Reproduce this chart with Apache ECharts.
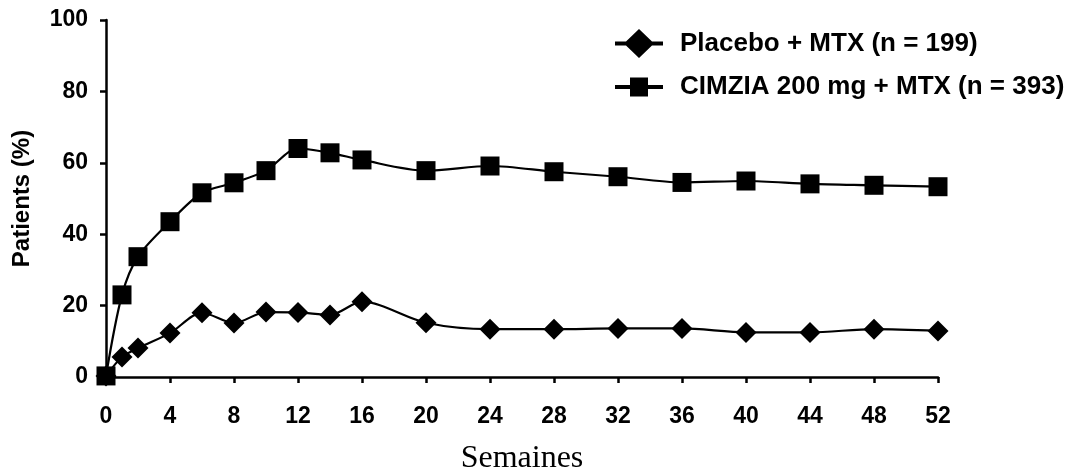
<!DOCTYPE html>
<html>
<head>
<meta charset="utf-8">
<script src="https://cdn.jsdelivr.net/npm/echarts@6/dist/echarts.min.js"></script>
<style>
html,body{margin:0;padding:0;background:#fff;}
#c{width:1077px;height:472px;}
</style>
</head>
<body>
<div id="c"></div>
<script>
const weeks = [0, 1, 2, 4, 6, 8, 10, 12, 14, 16, 20, 24, 28, 32, 36, 40, 44, 48, 52];
const placebo = [0.3, 5.6, 8.1, 12.3, 18.0, 15.1, 18.2, 18.1, 17.4, 21.1, 15.2, 13.4, 13.4, 13.6, 13.6, 12.5, 12.5, 13.4, 12.9];
const cimzia = [0.3, 23.0, 33.7, 43.5, 51.6, 54.4, 57.8, 64.0, 62.8, 60.8, 57.8, 59.1, 57.5, 56.1, 54.5, 54.9, 54.1, 53.7, 53.3];
const seriesNames = ['Placebo + MTX (n = 199)', 'CIMZIA 200 mg + MTX (n = 393)'];
const xTitle = 'Semaines';
const yTitle = 'Patients (%)';

const diamondIcon = 'path://M0,12.5 L11,12.5 L24,0 L37,12.5 L48,12.5 L48,16.5 L37,16.5 L24,29 L11,16.5 L0,16.5 Z';
const squareIcon = 'path://M0,7.5 L15,7.5 L15,0 L33,0 L33,7.5 L48,7.5 L48,11.5 L33,11.5 L33,19 L15,19 L15,11.5 L0,11.5 Z';

const chart = echarts.init(document.getElementById('c'), null, {renderer: 'canvas'});
const pair = (vals) => weeks.map((w, i) => [w, vals[i]]);
const sans = '"Liberation Sans", Arial, sans-serif';
chart.setOption({
  animation: false,
  backgroundColor: '#fff',
  grid: {left: 106, right: 139, top: 20, bottom: 95, containLabel: false, outerBoundsMode: 'none'},
  legend: {
    orient: 'vertical',
    left: 610,
    top: 24,
    itemWidth: 48,
    itemHeight: 29,
    itemGap: 16,
    textStyle: {fontFamily: sans, fontWeight: 'bold', fontSize: 26, color: '#000', padding: [0, 0, 0, 12]},
    data: [
      {name: seriesNames[0], icon: diamondIcon},
      {name: seriesNames[1], icon: squareIcon}
    ]
  },
  xAxis: {
    type: 'value',
    min: 0, max: 52, interval: 4,
    name: xTitle,
    nameLocation: 'middle',
    nameGap: 66,
    nameTextStyle: {fontFamily: '"Liberation Serif", "Times New Roman", serif', fontSize: 32, color: '#000'},
    axisLine: {show: true, onZero: false, lineStyle: {color: '#000', width: 2.5}},
    axisTick: {show: true, inside: false, length: 6, lineStyle: {color: '#000', width: 2.5}},
    axisLabel: {fontFamily: sans, fontWeight: 'bold', fontSize: 23, color: '#000', margin: 28},
    splitLine: {show: false}
  },
  yAxis: {
    type: 'value',
    min: 0, max: 100, interval: 20,
    name: yTitle,
    nameLocation: 'middle',
    nameGap: 72,
    nameRotate: 90,
    nameTextStyle: {fontFamily: sans, fontWeight: 'bold', fontSize: 24, color: '#000'},
    axisLine: {show: true, lineStyle: {color: '#000', width: 2.5}},
    axisTick: {show: true, inside: false, length: 6, lineStyle: {color: '#000', width: 2.5}},
    axisLabel: {fontFamily: sans, fontWeight: 'bold', fontSize: 23, color: '#000', margin: 18},
    splitLine: {show: false}
  },
  series: [
    {
      name: seriesNames[0],
      type: 'line',
      data: pair(placebo),
      smooth: 0.3,
      symbol: 'diamond',
      symbolSize: 21,
      lineStyle: {color: '#000', width: 2.2},
      itemStyle: {color: '#000'},
      z: 3
    },
    {
      name: seriesNames[1],
      type: 'line',
      data: pair(cimzia),
      smooth: 0.3,
      symbol: 'rect',
      symbolSize: 19,
      lineStyle: {color: '#000', width: 2.2},
      itemStyle: {color: '#000'},
      z: 4
    }
  ]
});
</script>
</body>
</html>
